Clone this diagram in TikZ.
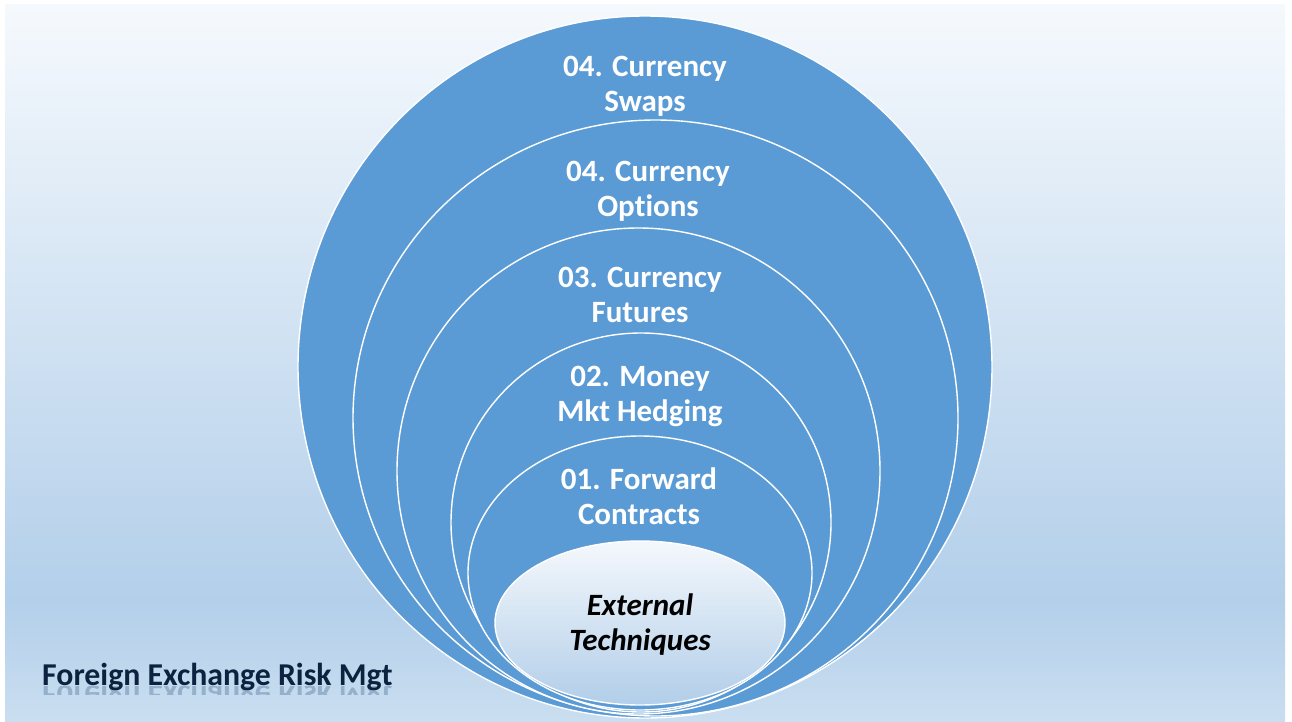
\documentclass[tikz,border=0pt]{standalone}
\usepackage{fontspec}
\setmainfont{Carlito}[Ligatures=NoCommon]
\definecolor{ellblue}{HTML}{5B9BD5}
\definecolor{bgtop}{HTML}{F5F9FD}
\definecolor{bgmid}{HTML}{B3CFEA}
\definecolor{bgbot}{HTML}{CADEF0}
\definecolor{innertop}{HTML}{F4F8FC}
\definecolor{innerbot}{HTML}{B2CEE9}
\definecolor{titlecol}{HTML}{0C2340}
\pgfdeclareverticalshading{bgshade}{100bp}{color(0bp)=(bgbot); color(25bp)=(bgbot); color(33.5bp)=(bgmid); color(75bp)=(bgtop); color(100bp)=(bgtop)}
\tikzset{
  ring/.style={fill=ellblue, draw=white, line width=1.4pt},
  lbl/.style={font=\fontsize{31}{35}\selectfont\bfseries, text=white, align=center, inner sep=0pt},
  innerlbl/.style={font=\fontsize{31}{35}\selectfont\bfseries\itshape, text=black, align=center, inner sep=0pt},
  titlefont/.style={font=\fontsize{31.8}{35}\selectfont\bfseries, inner sep=0pt, anchor=base west},
}
\begin{document}
\begin{tikzpicture}[x=1pt,y=-1pt]
\useasboundingbox (0,0) rectangle (1292,722);
\fill[white] (0,0) rectangle (1292,722);
\shade[shading=bgshade] (5,5) rectangle (1285,722);
% nested ellipses
\draw[ring] (645,367) ellipse [x radius=347, y radius=351];
\draw[ring] (655.5,418) ellipse [x radius=302.5, y radius=298];
\draw[ring] (638.5,471) ellipse [x radius=241.5, y radius=243];
\draw[ring] (641,522.5) ellipse [x radius=190, y radius=189.5];
\draw[ring] (640,573) ellipse [x radius=172, y radius=137];
\shade[top color=innertop, bottom color=innerbot, draw=white, line width=1.4pt] (640,623) ellipse [x radius=145, y radius=82];
% labels
\node[lbl] (swaps) at (645,87.5) {\strut 04. Currency\\\strut Swaps};
\node[lbl] (options) at (648,192) {\strut 04. Currency\\\strut Options};
\node[lbl] (futures) at (640,298) {\strut 03. Currency\\\strut Futures};
\node[lbl] (money) at (640,397) {\strut 02. Money\\\strut Mkt Hedging};
\node[lbl] (forward) at (639,500) {\strut 01. Forward\\\strut Contracts};
\node[innerlbl] (external) at (640,626) {\strut External\\\strut Techniques};
% title with faint reflection
\begin{scope}
\clip (30,686) rectangle (420,694);
\node[titlefont, text=titlecol!18!bgmid, yscale=-1] (titlerefl) at (42,685) {Foreign Exchange Risk Mgt};
\end{scope}
\node[titlefont, text=titlecol] (title) at (42,685) {Foreign Exchange Risk Mgt};
\end{tikzpicture}
\end{document}
